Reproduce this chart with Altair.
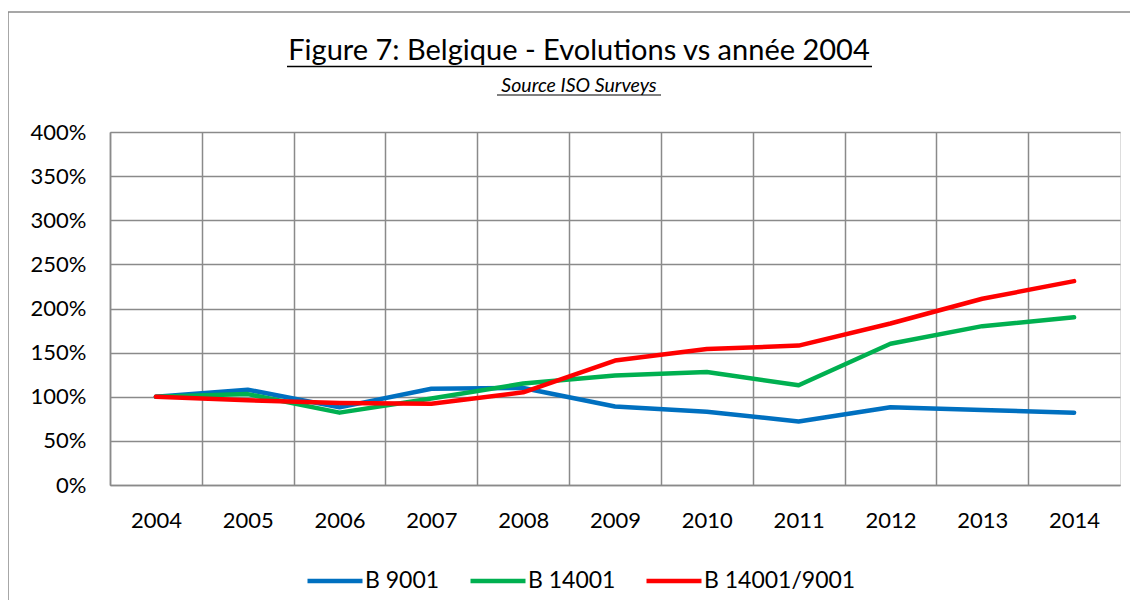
import altair as alt
import pandas as pd

years = [2004, 2005, 2006, 2007, 2008, 2009, 2010, 2011, 2012, 2013, 2014]
b9001 = [1.00, 1.08, 0.88, 1.09, 1.10, 0.89, 0.83, 0.72, 0.88, 0.85, 0.82]
b14001 = [1.00, 1.03, 0.82, 0.98, 1.15, 1.24, 1.28, 1.13, 1.60, 1.80, 1.90]
b14001_9001 = [1.00, 0.96, 0.93, 0.92, 1.05, 1.41, 1.54, 1.58, 1.83, 2.11, 2.31]
series_names = ["B 9001", "B 14001", "B 14001/9001"]
series_colors = ["#0070C0", "#00B050", "#FF0000"]
title_text = "Figure 7: Belgique - Evolutions vs année 2004"
subtitle_text = "Source ISO Surveys"

FONT = "Lato"
GRID = "#8a8a8a"

rows = []
for name, vals in zip(series_names, [b9001, b14001, b14001_9001]):
    for y, v in zip(years, vals):
        rows.append({"year": y, "value": v, "series": name, "order": series_names.index(name)})
df = pd.DataFrame(rows)

W, H = 1010, 353
grid_vals = [y - 0.5 for y in years]

x = alt.X("year:Q",
          scale=alt.Scale(domain=[years[0] - 0.5, years[-1] + 0.5], nice=False, zero=False),
          axis=alt.Axis(values=grid_vals, labelExpr="format(datum.value + 0.5, 'd')",
                        labelOffset=W / len(years) / 2, labelFlush=False, labelOverlap=False,
                        grid=True, gridColor=GRID, gridWidth=1.5, ticks=False,
                        domainColor=GRID, domainWidth=1.5, labelFont=FONT, labelFontSize=22,
                        labelColor="black", labelPadding=25, title=None))
y = alt.Y("value:Q",
          scale=alt.Scale(domain=[0, 4], nice=False),
          axis=alt.Axis(values=[0, 0.5, 1, 1.5, 2, 2.5, 3, 3.5, 4], format=".0%",
                        grid=True, gridColor=GRID, gridWidth=1.5, ticks=False,
                        domainColor=GRID, domainWidth=1.5, labelFont=FONT, labelFontSize=22,
                        labelColor="black", labelPadding=24, title=None))

lines = alt.Chart(df).mark_line(strokeWidth=4.5, strokeCap="round", strokeJoin="round").encode(
    x=x, y=y,
    color=alt.Color("series:N", sort=series_names,
                    scale=alt.Scale(domain=series_names, range=series_colors),
                    legend=alt.Legend(title=None, orient="none", direction="horizontal",
                                      legendX=195, legendY=419, symbolType="stroke",
                                      symbolSize=3025, symbolStrokeWidth=4.5,
                                      labelFont=FONT, labelFontSize=23, labelColor="black",
                                      labelOffset=0, columnPadding=21, padding=0)),
    order="order:Q",
)

one = pd.DataFrame({"t": [title_text], "s": [subtitle_text]})
frame = alt.Chart(one).mark_rect(fill=None, stroke="#8a8a8a", strokeWidth=1.5).encode(
    x=alt.value(-102), x2=alt.value(1100), y=alt.value(-120), y2=alt.value(560))
title = alt.Chart(one).mark_text(font=FONT, fontSize=29, color="black", baseline="alphabetic").encode(
    x=alt.value(469), y=alt.value(-72.5), text="t:N")
subtitle = alt.Chart(one).mark_text(font=FONT, fontSize=19.5, fontStyle="italic", color="black",
                                    baseline="alphabetic").encode(
    x=alt.value(469), y=alt.value(-40.5), text="s:N")
ul1 = alt.Chart(one).mark_rule(color="black", strokeWidth=1.5).encode(
    x=alt.value(177), x2=alt.value(762), y=alt.value(-65.5))
ul2 = alt.Chart(one).mark_rule(color="black", strokeWidth=1).encode(
    x=alt.value(387), x2=alt.value(551), y=alt.value(-37))

chart = alt.layer(frame, title, subtitle, ul1, ul2, lines).properties(
    width=W, height=H,
    autosize=alt.AutoSizeParams(type="none"),
    padding={"left": 102, "top": 124, "right": 10, "bottom": 115},
).configure_view(stroke=GRID, strokeWidth=1.5).configure(background="white")

chart.save("out.html", embed_options={"renderer": "svg", "actions": False})
